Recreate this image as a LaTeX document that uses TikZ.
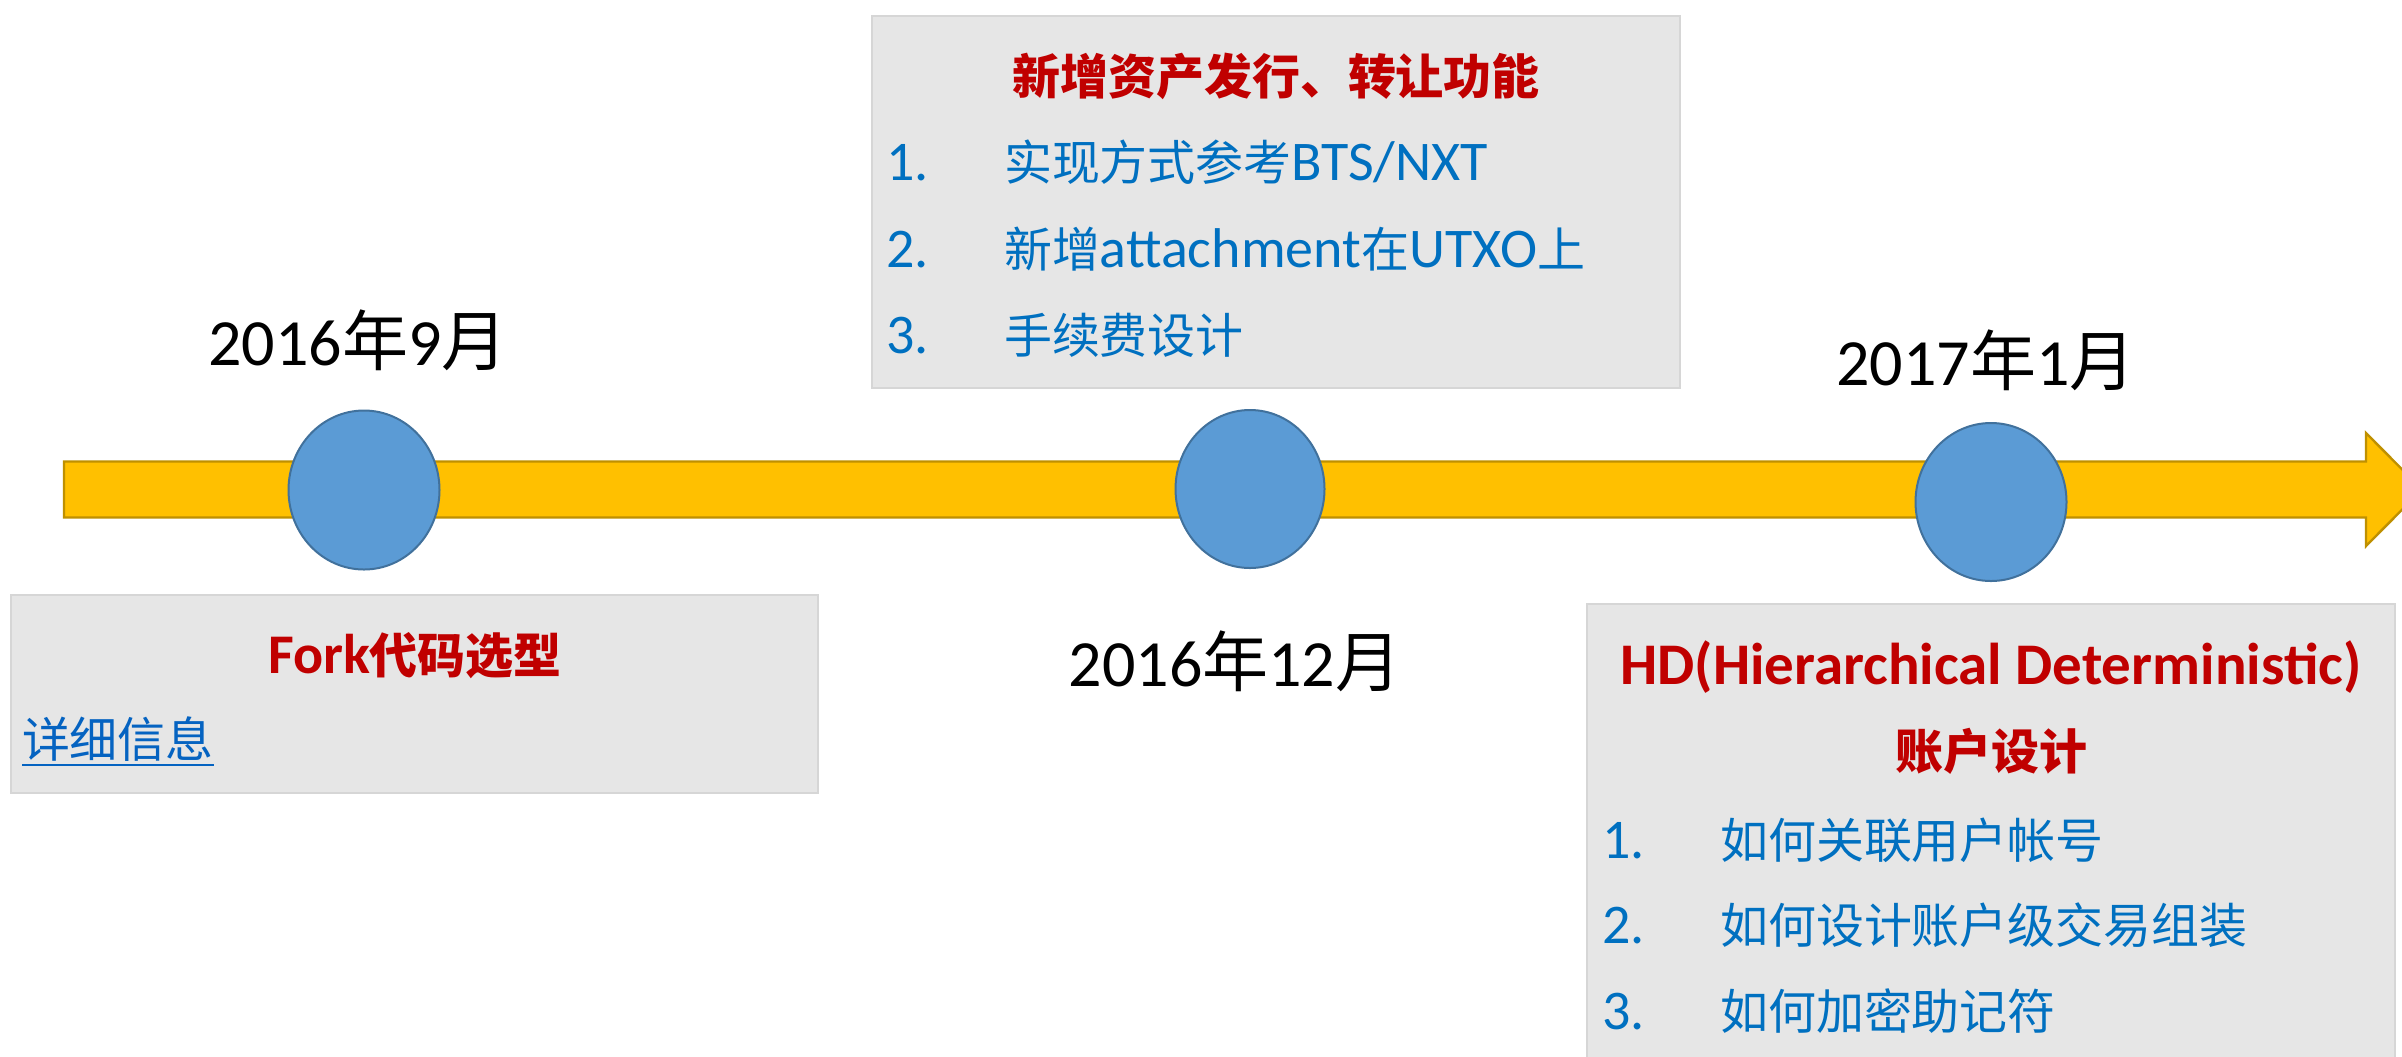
\documentclass[tikz,border=0pt]{standalone}
\usepackage{fontspec}
\setmainfont{Carlito}
\newfontfamily\zhf{Noto Sans CJK SC}[Scale=0.857]
\newfontfamily\zhd{Noto Sans CJK SC}
\newcommand\cjkt[1]{{\zhf #1}}
\newcommand\cjkd[1]{{\zhd #1}}
\usetikzlibrary{shapes.geometric}
\definecolor{shaftfill}{HTML}{FFC000}
\definecolor{shaftdraw}{HTML}{BF9000}
\definecolor{dotfill}{HTML}{5B9BD5}
\definecolor{dotdraw}{HTML}{41719C}
\definecolor{boxfill}{HTML}{E6E6E6}
\definecolor{boxdraw}{HTML}{D6D6D6}
\definecolor{titlered}{HTML}{C00000}
\definecolor{itemblue}{HTML}{0070C0}
\definecolor{linkblue}{HTML}{0563C1}
\tikzset{
  shaftst/.style={fill=shaftfill, draw=shaftdraw, line width=1.2pt, line join=miter},
  dot/.style={ellipse, fill=dotfill, draw=dotdraw, line width=1pt, inner sep=0pt},
  boxst/.style={fill=boxfill, draw=boxdraw, line width=1pt},
  txt/.style={inner sep=0pt, outer sep=0pt},
  datet/.style={txt, font=\fontsize{33}{40}\selectfont, anchor=base, text=black},
  titlet/.style={txt, font=\fontsize{28}{34}\selectfont\bfseries, text=titlered, anchor=base},
  itemt/.style={txt, font=\fontsize{28}{34}\selectfont, text=itemblue, anchor=base west},
}
\begin{document}
\begin{tikzpicture}[x=0.5pt, y=-0.5pt]
\useasboundingbox (0,0) rectangle (2402,1056);
% timeline arrow
\draw[shaftst] (64,461.5) -- (2366,461.5) -- (2366,433) -- (2422,489.5) -- (2366,546) -- (2366,517.5) -- (64,517.5) -- cycle;
% milestones
\node[dot, minimum width=75.5pt, minimum height=79.5pt] (c1) at (364,490) {};
\node[dot, minimum width=74.5pt, minimum height=79pt] (c2) at (1250,489) {};
\node[dot, minimum width=75.5pt, minimum height=79pt] (c3) at (1991,502) {};
% dates
\node[datet] (d1) at (358,365) {2016\cjkd{年}9\cjkd{月}};
\node[datet] (d2) at (1235,686) {2016\cjkd{年}12\cjkd{月}};
\node[datet] (d3) at (1986,385) {2017\cjkd{年}1\cjkd{月}};
% box 1
\draw[boxst] (10.6,595) coordinate (b1nw) rectangle (818,793) coordinate (b1se);
\node[titlet] (t1) at (415,673) {Fork\cjkt{代码选型}};
\node[txt, anchor=base west, font=\fontsize{28}{34}\selectfont, text=linkblue] (lk) at (22,757) {\cjkt{详细信息}};
\draw[linkblue, line width=1.1pt] ([yshift=-3.8pt]lk.base west) -- ([yshift=-3.8pt]lk.base east);
% box 2
\draw[boxst] (872,16) coordinate (b2nw) rectangle (1680,388) coordinate (b2se);
\node[titlet] (t2) at (1276,94) {\cjkt{新增资产发行、转让功能}};
\node[itemt] (n21) at (886,180) {1.};
\node[itemt] (i21) at (1004,180) {\cjkt{实现方式参考}BTS/NXT};
\node[itemt] (n22) at (886,267) {2.};
\node[itemt] (i22) at (1004,267) {\cjkt{新增}attachment\cjkt{在}UTXO\cjkt{上}};
\node[itemt] (n23) at (886,353) {3.};
\node[itemt] (i23) at (1004,353) {\cjkt{手续费设计}};
% box 3
\draw[boxst] (1587,604) coordinate (b3nw) rectangle (2395,1075) coordinate (b3se);
\node[titlet, font=\fontsize{29.5}{35}\selectfont\bfseries] (t3a) at (1991,684) {HD(Hierarchical Deterministic)};
\node[titlet] (t3b) at (1991,769) {\cjkt{账户设计}};
\node[itemt] (n31) at (1602,858) {1.};
\node[itemt] (i31) at (1720,858) {\cjkt{如何关联用户帐号}};
\node[itemt] (n32) at (1602,943) {2.};
\node[itemt] (i32) at (1720,943) {\cjkt{如何设计账户级交易组装}};
\node[itemt] (n33) at (1602,1029) {3.};
\node[itemt] (i33) at (1720,1029) {\cjkt{如何加密助记符}};
\end{tikzpicture}
\end{document}
